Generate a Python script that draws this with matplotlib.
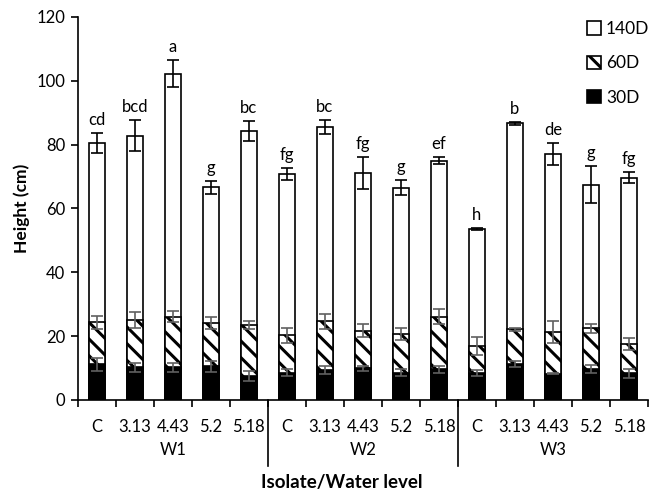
import numpy as np
import matplotlib.pyplot as plt
from matplotlib.transforms import blended_transform_factory

plt.rcParams['font.family'] = ['Lato', 'DejaVu Sans']
plt.rcParams['hatch.linewidth'] = 2.2

# categories
isolates = ["C", "3.13", "4.43", "5.2", "5.18"] * 3
water_levels = ["W1", "W2", "W3"]

# heights (cm)
h140 = [80.6, 82.8, 102.2, 66.6, 84.3, 70.8, 85.5, 71.0, 66.5, 75.0, 53.7, 86.7, 77.1, 67.5, 69.7]
e140 = [3.1, 4.9, 4.2, 2.0, 3.1, 1.9, 2.3, 5.0, 2.4, 1.0, 0.3, 0.5, 3.5, 5.9, 1.8]
h60 = [24.3, 25.2, 26.1, 24.1, 23.6, 20.3, 24.6, 21.7, 20.6, 26.1, 17.0, 22.1, 21.2, 22.4, 17.5]
e60 = [2.1, 2.5, 1.8, 1.8, 1.3, 2.4, 2.4, 2.0, 1.9, 2.4, 2.8, 0.4, 3.4, 1.3, 1.8]
h30 = [11.2, 10.2, 10.2, 10.5, 7.5, 8.6, 9.4, 10.0, 8.6, 9.6, 8.4, 11.2, 8.3, 9.8, 8.4]
e30 = [2.1, 1.3, 1.3, 1.6, 1.5, 1.0, 1.2, 0.8, 1.0, 1.2, 1.0, 1.0, 0.3, 1.2, 1.4]
letters = ["cd", "bcd", "a", "g", "bc", "fg", "bc", "fg", "g", "ef", "h", "b", "de", "g", "fg"]

x = np.arange(len(isolates))
w = 0.42

fig = plt.figure(figsize=(6.58, 4.94), dpi=100)
ax = fig.add_axes([0.1185, 0.1903, 0.8663, 0.7753])

ax.bar(x, h140, w, color="white", edgecolor="black", linewidth=1.2, label="140D", zorder=2)
ax.bar(x, h60, w, color="white", edgecolor="black", linewidth=1.2, hatch="\\\\", label="60D", zorder=3)
ax.bar(x, h30, w, color="black", edgecolor="black", linewidth=1.2, label="30D", zorder=4)

ax.errorbar(x, h140, yerr=e140, fmt="none", ecolor="black", elinewidth=1.2, capsize=4, capthick=1.2, zorder=5)
ax.errorbar(x, h60, yerr=e60, fmt="none", ecolor="#606060", elinewidth=1.2, capsize=4, capthick=1.2, zorder=5)
ax.errorbar(x, h30, yerr=e30, fmt="none", ecolor="#606060", elinewidth=1.2, capsize=4, capthick=1.2, zorder=5)

for xi, h, e, lab in zip(x, h140, e140, letters):
    ax.text(xi, h + e + 1.6, lab, ha="center", va="bottom", fontsize=12)

ax.set_xlim(-0.5, len(isolates) - 0.5)
ax.set_ylim(0, 120)
ax.set_yticks(range(0, 121, 20))
ax.tick_params(axis="y", labelsize=12, length=5, width=1.2, direction="out", pad=4)

# tick marks at category boundaries, labels at centers
ax.set_xticks(np.arange(-0.5, len(isolates), 1.0))
ax.set_xticklabels([])
ax.tick_params(axis="x", which="major", length=5, width=1.2, direction="out")
ax.set_xticks(x, minor=True)
ax.set_xticklabels(isolates, minor=True)
ax.tick_params(axis="x", which="minor", length=0, labelsize=12, pad=14)

for s in ["top", "right"]:
    ax.spines[s].set_visible(False)
ax.spines["left"].set_linewidth(1.2)
ax.spines["bottom"].set_linewidth(1.2)

trans = blended_transform_factory(ax.transData, ax.transAxes)
px = 1.0 / (0.7753 * 494)
for i, wl in enumerate(water_levels):
    ax.text(i * 5 + 2, -50 * px, wl, transform=trans, ha="center", va="center", fontsize=12)
for b in [4.5, 9.5]:
    ax.plot([b, b], [0, -66 * px], transform=trans, color="black", lw=1.2, clip_on=False)

ax.set_ylabel("Height (cm)", fontsize=12.5, fontweight="bold", labelpad=5)
fig.text(0.5 + 0.02, 1 - 482 / 494, "Isolate/Water level", ha="center", va="center",
         fontsize=13.5, fontweight="bold")

ax.legend(loc="upper right", bbox_to_anchor=(1.03, 1.03),
          frameon=False, fontsize=12.5, handlelength=0.8, handleheight=0.8,
          handletextpad=0.3, labelspacing=1.05)

fig.savefig("out.png", dpi=100)
